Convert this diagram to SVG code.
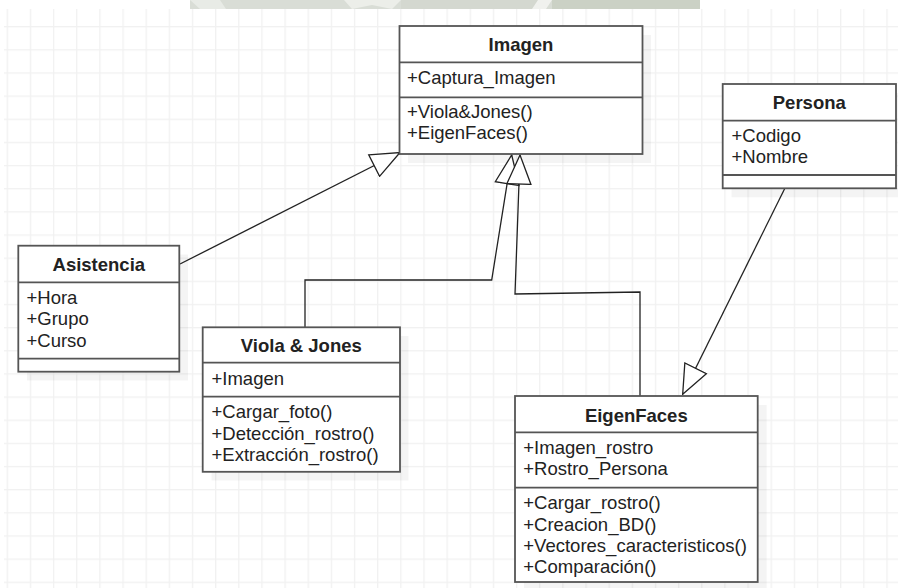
<svg xmlns="http://www.w3.org/2000/svg" width="898" height="588" viewBox="0 0 898 588">
  <defs>
    <style>
      .box { fill: #ffffff; stroke: #555555; stroke-width: 1.8; }
      .sep { stroke: #555555; stroke-width: 1.8; fill: none; }
      .shadow { fill: #000000; fill-opacity: 0.045; }
      .title { font-family: "Liberation Sans", Arial, sans-serif; font-size: 18.5px; font-weight: bold; fill: #222222; text-anchor: middle; }
      .member { font-family: "Liberation Sans", Arial, sans-serif; font-size: 18.5px; fill: #222222; }
      .edge { fill: none; stroke: #222222; stroke-width: 1.3; }
    </style>
    <pattern id="grid" patternUnits="userSpaceOnUse" x="6.65" y="26.05" width="23.15" height="23.15">
      <rect x="0" y="0" width="1.3" height="23.15" fill="#f1f1f1"/>
      <rect x="0" y="0" width="23.15" height="1.3" fill="#f1f1f1"/>
    </pattern>
    <!-- hollow triangle for generalization -->
    <marker id="inherit" viewBox="0 0 31 26" refX="30" refY="13" markerWidth="31" markerHeight="26" markerUnits="userSpaceOnUse" orient="auto">
      <path d="M1,1 L30,13 L1,25 Z" fill="#ffffff" stroke="#222222" stroke-width="1.3"/>
    </marker>
  </defs>

  <!-- canvas -->
  <rect width="898" height="588" fill="#ffffff"/>
  <rect x="4" y="9" width="894" height="579" fill="url(#grid)"/>

  <!-- top band -->
  <g id="band">
    <rect x="190" y="0" width="510" height="9" fill="#d9ddd6"/>
    <polygon points="190,0 220,0 226,9 200,9" fill="#e8ebe6"/>
    <polygon points="344,0 401,0 392,9 372,5 352,9" fill="#eceee9"/>
    <rect x="401" y="0" width="137" height="9" fill="#d4d8d0"/>
    <polygon points="538,0 552,0 546,9 532,9" fill="#f0f1ee"/>
    <rect x="552" y="0" width="148" height="9" fill="#cbd1c5"/>
  </g>

  <!-- shadows -->
  <g id="shadows">
    <rect class="shadow" x="408" y="35" width="243" height="128"/>
    <rect class="shadow" x="27" y="254.5" width="161" height="126"/>
    <rect class="shadow" x="211.5" y="336" width="197" height="144.5"/>
    <rect class="shadow" x="731.5" y="93" width="173.5" height="104.3"/>
    <rect class="shadow" x="524" y="405" width="242.7" height="190"/>
  </g>

  <g id="connectors">
    <path class="edge" d="M180,264 L400,152.5" marker-end="url(#inherit)"/>
    <path class="edge" d="M305,327 L305,280 L491.7,280 L511.7,155" marker-end="url(#inherit)"/>
    <path class="edge" d="M640,396 L640,292 L515,294 L520,155" marker-end="url(#inherit)"/>
    <path class="edge" d="M785,188 L682.7,394.3" marker-end="url(#inherit)"/>
  </g>

  <g id="imagen">
    <rect class="box" x="399.5" y="26" width="243" height="128"/>
    <line class="sep" x1="399.5" y1="62.3" x2="642.5" y2="62.3"/>
    <line class="sep" x1="399.5" y1="97.3" x2="642.5" y2="97.3"/>
    <text class="title" x="521" y="51">Imagen</text>
    <text class="member" x="407" y="84">+Captura_Imagen</text>
    <text class="member" x="407" y="118">+Viola&amp;Jones()</text>
    <text class="member" x="407" y="139.3">+EigenFaces()</text>
  </g>

  <g id="asistencia">
    <rect class="box" x="18.3" y="245.7" width="161" height="126"/>
    <line class="sep" x1="18.3" y1="282.3" x2="179.3" y2="282.3"/>
    <line class="sep" x1="18.3" y1="358.7" x2="179.3" y2="358.7"/>
    <text class="title" x="98.8" y="270.5">Asistencia</text>
    <text class="member" x="26.5" y="304">+Hora</text>
    <text class="member" x="26.5" y="325.3">+Grupo</text>
    <text class="member" x="26.5" y="346.6">+Curso</text>
  </g>

  <g id="viola-jones">
    <rect class="box" x="202.7" y="327.3" width="197.3" height="144.5"/>
    <line class="sep" x1="202.7" y1="362.7" x2="400" y2="362.7"/>
    <line class="sep" x1="202.7" y1="396.7" x2="400" y2="396.7"/>
    <text class="title" x="301.3" y="351.5">Viola &amp; Jones</text>
    <text class="member" x="211.5" y="385">+Imagen</text>
    <text class="member" x="211.5" y="418.3">+Cargar_foto()</text>
    <text class="member" x="211.5" y="439.6">+Detección_rostro()</text>
    <text class="member" x="211.5" y="460.9">+Extracción_rostro()</text>
  </g>

  <g id="persona">
    <rect class="box" x="722.7" y="84" width="173.3" height="104.3"/>
    <line class="sep" x1="722.7" y1="120.7" x2="896" y2="120.7"/>
    <line class="sep" x1="722.7" y1="175" x2="896" y2="175"/>
    <text class="title" x="809.3" y="108.5">Persona</text>
    <text class="member" x="731.5" y="141.7">+Codigo</text>
    <text class="member" x="731.5" y="163">+Nombre</text>
  </g>

  <g id="eigenfaces">
    <rect class="box" x="515" y="396" width="242.7" height="186"/>
    <line class="sep" x1="515" y1="432.3" x2="757.7" y2="432.3"/>
    <line class="sep" x1="515" y1="487.7" x2="757.7" y2="487.7"/>
    <text class="title" x="636.3" y="421.7">EigenFaces</text>
    <text class="member" x="523.3" y="454">+Imagen_rostro</text>
    <text class="member" x="523.3" y="475.3">+Rostro_Persona</text>
    <text class="member" x="523.3" y="509.3">+Cargar_rostro()</text>
    <text class="member" x="523.3" y="530.6">+Creacion_BD()</text>
    <text class="member" x="523.3" y="551.9">+Vectores_caracteristicos()</text>
    <text class="member" x="523.3" y="573.2">+Comparación()</text>
  </g>
</svg>
